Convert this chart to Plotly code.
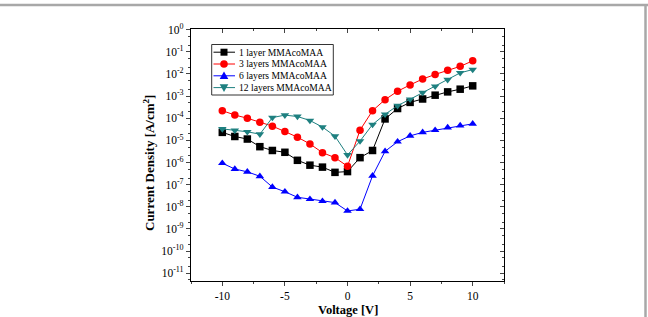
import plotly.graph_objects as go

voltage = [-10, -9, -8, -7, -6, -5, -4, -3, -2, -1, 0, 1, 2, 3, 4, 5, 6, 7, 8, 9, 10]

j_1layer = [2.3e-5, 1.5e-5, 1.15e-5, 5.2e-6, 3.5e-6, 2.9e-6, 1.26e-6, 7.6e-7, 6.2e-7, 3.6e-7, 3.9e-7,
            1.66e-6, 3.5e-6, 9.3e-5, 2.75e-4, 5.2e-4, 7.4e-4, 1.1e-3, 1.55e-3, 2.05e-3, 2.9e-3]
j_3layers = [2.2e-4, 1.4e-4, 1.0e-4, 6.6e-5, 4.4e-5, 2.5e-5, 1.4e-5, 6.9e-6, 2.8e-6, 1.66e-6, 6.8e-7,
             2.9e-5, 2.2e-4, 6.9e-4, 1.66e-3, 3.2e-3, 5.9e-3, 9.5e-3, 1.48e-2, 2.2e-2, 3.9e-2]
j_6layers = [9.3e-7, 5.1e-7, 3.8e-7, 2.4e-7, 7.8e-8, 4.8e-8, 2.7e-8, 2.2e-8, 1.8e-8, 1.55e-8, 6.5e-9,
             7.8e-9, 2.5e-7, 3.2e-6, 8.7e-6, 1.6e-5, 2.3e-5, 2.9e-5, 3.8e-5, 4.7e-5, 5.6e-5]
j_12layers = [3.3e-5, 2.8e-5, 2.45e-5, 1.9e-5, 1.07e-4, 1.38e-4, 1.2e-4, 7.9e-5, 4.0e-5, 1.55e-5, 2.2e-6,
              9.3e-6, 5.2e-5, 1.5e-4, 3.7e-4, 7.2e-4, 1.45e-3, 2.75e-3, 5.5e-3, 1.12e-2, 1.58e-2]

series_names = ["1 layer MMAcoMAA", "3 layers MMAcoMAA", "6 layers MMAcoMAA", "12 layers MMAcoMAA"]
series_data = [j_1layer, j_3layers, j_6layers, j_12layers]
colors = ["#000000", "#FF0000", "#0000FF", "#1E8080"]
symbols = ["square", "circle", "triangle-up", "triangle-down"]

x_ticks = [-10, -5, 0, 5, 10]
x_ticktext = ["-10", "-5", "0", "5", "10"]
y_exps = list(range(-11, 1))
y_tickvals = [10.0 ** e for e in y_exps]
y_ticktext = ["10<sup>%d</sup>" % e for e in y_exps]

FONT = "Liberation Serif"

# figure geometry (pixels)
W, H = 648, 317
ML, MR, MT, MB = 191, 144, 29, 36
PL, PR, PT, PB = ML, W - MR, MT, H - MB
pw, ph = PR - PL, PB - PT


def px(xp):
    return (xp - PL) / pw


def py(yp):
    return (PB - yp) / ph


fig = go.Figure()
for name, ys, col, sym in zip(series_names, series_data, colors, symbols):
    fig.add_trace(go.Scatter(
        x=voltage, y=ys, name=name, mode="lines+markers",
        line=dict(color=col, width=1),
        marker=dict(symbol=sym, size=7.5, color=col, line=dict(width=0)),
        showlegend=False,
    ))

# invisible trace for mirrored axes
fig.add_trace(go.Scatter(x=[voltage[0]], y=[j_1layer[0]], xaxis="x2", yaxis="y2",
                         mode="markers", marker=dict(opacity=0), showlegend=False, hoverinfo="skip"))

# ---- compact legend drawn in paper space ----
LEG_L, LEG_T, LEG_R, LEG_B = 211.7, 44.5, 333.3, 95.0
ROW0, ROW_STEP = 52.2, 11.8
LINE_X0, LINE_X1, MARK_X, TEXT_X = 213.5, 235.0, 224.0, 237.0
MS = 3.5  # half marker size in px
rows = [ROW0 + i * ROW_STEP for i in range(len(series_names))]

fig.add_shape(type="rect", xref="paper", yref="paper", x0=px(LEG_L), x1=px(LEG_R),
              y0=py(LEG_B), y1=py(LEG_T), line=dict(color="#333333", width=1),
              fillcolor="white", layer="above")


def marker_shape(sym, cx, cy):
    if sym == "square":
        return dict(type="rect", x0=px(cx - MS), x1=px(cx + MS), y0=py(cy + MS), y1=py(cy - MS))
    if sym == "circle":
        return dict(type="circle", x0=px(cx - MS - 0.3), x1=px(cx + MS + 0.3),
                    y0=py(cy + MS + 0.3), y1=py(cy - MS - 0.3))
    s = MS + 0.8
    if sym == "triangle-up":
        pts = [(cx - s, cy + s * 0.75), (cx + s, cy + s * 0.75), (cx, cy - s)]
    else:
        pts = [(cx - s, cy - s * 0.75), (cx + s, cy - s * 0.75), (cx, cy + s)]
    path = "M " + " L ".join("%.5f,%.5f" % (px(a), py(b)) for a, b in pts) + " Z"
    return dict(type="path", path=path)


for name, col, sym, ry in zip(series_names, colors, symbols, rows):
    fig.add_shape(type="line", xref="paper", yref="paper", x0=px(LINE_X0), x1=px(LINE_X1),
                  y0=py(ry), y1=py(ry), line=dict(color=col, width=1), layer="above")
    ms = marker_shape(sym, MARK_X, ry)
    ms.update(xref="paper", yref="paper", fillcolor=col, line=dict(width=0), layer="above")
    fig.add_shape(**ms)
    fig.add_annotation(x=px(TEXT_X), y=py(ry), xref="paper", yref="paper", text=name,
                       showarrow=False, xanchor="left", yanchor="middle",
                       font=dict(family=FONT, size=9.6, color="black"))

# axis titles placed at fixed pixel positions
fig.add_annotation(x=0.5, y=py(310), xref="paper", yref="paper", text="<b>Voltage [V]</b>",
                   showarrow=False, xanchor="center", yanchor="middle",
                   font=dict(family=FONT, size=12.5, color="black"))
fig.add_annotation(x=px(149), y=py(163), xref="paper", yref="paper",
                   text="<b>Current Density [A/cm<sup>2</sup>]</b>", textangle=-90,
                   showarrow=False, xanchor="center", yanchor="middle",
                   font=dict(family=FONT, size=13, color="black"))

xr = [-12.5, 12.5]
yr = [-11.35, 0.03]

fig.update_layout(
    width=W, height=H,
    margin=dict(l=ML, r=MR, t=MT, b=MB, autoexpand=False),
    paper_bgcolor="white", plot_bgcolor="white",
    font=dict(family=FONT, size=11, color="black"),
    showlegend=False,
    xaxis=dict(
        range=xr, tickvals=x_ticks, ticktext=x_ticktext, ticks="outside", ticklen=4, tickwidth=1,
        showline=True, linecolor="black", linewidth=1.2, showgrid=False, zeroline=False,
        minor=dict(ticks="outside", ticklen=2, dtick=2.5, tick0=0, showgrid=False),
        tickfont=dict(family=FONT, size=11.5), ticklabelstandoff=0,
    ),
    xaxis2=dict(
        range=xr, overlaying="x", side="top", tickvals=x_ticks, ticks="inside", ticklen=4,
        showticklabels=False, showline=True, linecolor="black", linewidth=1.2,
        showgrid=False, zeroline=False,
        minor=dict(ticks="inside", ticklen=2, dtick=2.5, tick0=0, showgrid=False),
    ),
    yaxis=dict(
        type="log", range=yr, tickvals=y_tickvals, ticktext=y_ticktext,
        ticks="outside", ticklen=4, tickwidth=1,
        showline=True, linecolor="black", linewidth=1.2, showgrid=False, zeroline=False,
        minor=dict(ticks="outside", ticklen=2, showgrid=False),
        tickfont=dict(family=FONT, size=11.5),
    ),
    yaxis2=dict(
        type="log", range=yr, overlaying="y", side="right", tickvals=y_tickvals,
        ticks="inside", ticklen=4, showticklabels=False,
        showline=True, linecolor="black", linewidth=1.2, showgrid=False, zeroline=False,
        minor=dict(ticks="inside", ticklen=2, showgrid=False),
    ),
)

# gray outer frame lines (top and right) of the cropped figure
fig.add_shape(type="line", xref="paper", yref="paper", x0=px(0), x1=px(W), y0=py(5), y1=py(5),
              line=dict(color="#A8A8A8", width=2.5))
fig.add_shape(type="line", xref="paper", yref="paper", x0=px(645.5), x1=px(645.5), y0=py(5), y1=py(H),
              line=dict(color="#A8A8A8", width=2.5))

fig.write_html("out.html")
